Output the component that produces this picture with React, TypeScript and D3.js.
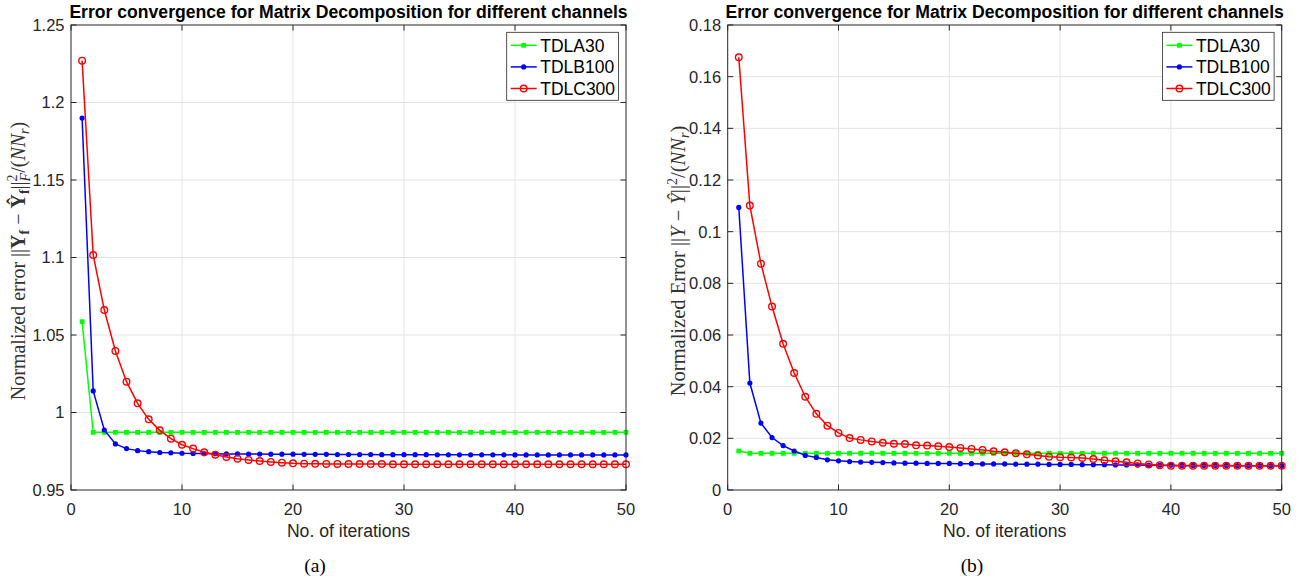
import React, { useEffect, useRef } from "react";
import * as d3 from "d3";

// iterations 1..50
const iterations = [
  1, 2, 3, 4, 5, 6, 7, 8, 9, 10, 11, 12, 13, 14, 15, 16, 17, 18, 19, 20,
  21, 22, 23, 24, 25, 26, 27, 28, 29, 30, 31, 32, 33, 34, 35, 36, 37, 38, 39, 40,
  41, 42, 43, 44, 45, 46, 47, 48, 49, 50,
];
const seriesNames = ["TDLA30", "TDLB100", "TDLC300"];
const seriesColors = ["#00ff00", "#0000ff", "#ff0000"];

const xTicks = [0, 10, 20, 30, 40, 50];
const xTickLabels = ["0", "10", "20", "30", "40", "50"];

// panel (a)
const yTicksA = [0.95, 1, 1.05, 1.1, 1.15, 1.2, 1.25];
const yTickLabelsA = ["0.95", "1", "1.05", "1.1", "1.15", "1.2", "1.25"];
const tdla30A = [
  1.0586, 0.9872, 0.9872, 0.9872, 0.9872, 0.9872, 0.9872, 0.9872, 0.9872, 0.9872,
  0.9872, 0.9872, 0.9872, 0.9872, 0.9872, 0.9872, 0.9872, 0.9872, 0.9872, 0.9872,
  0.9872, 0.9872, 0.9872, 0.9872, 0.9872, 0.9872, 0.9872, 0.9872, 0.9872, 0.9872,
  0.9872, 0.9872, 0.9872, 0.9872, 0.9872, 0.9872, 0.9872, 0.9872, 0.9872, 0.9872,
  0.9872, 0.9872, 0.9872, 0.9872, 0.9872, 0.9872, 0.9872, 0.9872, 0.9872, 0.9872,
];
const tdlb100A = [
  1.19, 1.0139, 0.9887, 0.9797, 0.9767, 0.9754, 0.9747, 0.9742, 0.974, 0.9737,
  0.9736, 0.9735, 0.9734, 0.9733, 0.9733, 0.9732, 0.9732, 0.9731, 0.9731, 0.9731,
  0.973, 0.973, 0.973, 0.9729, 0.9729, 0.9729, 0.9729, 0.9728, 0.9728, 0.9728,
  0.9728, 0.9728, 0.9727, 0.9727, 0.9727, 0.9727, 0.9727, 0.9727, 0.9727, 0.9726,
  0.9726, 0.9726, 0.9726, 0.9726, 0.9726, 0.9726, 0.9726, 0.9726, 0.9726, 0.9726,
];
const tdlc300A = [
  1.227, 1.1016, 1.0661, 1.0397, 1.0199, 1.0059, 0.9956, 0.9885, 0.9831, 0.9792,
  0.9767, 0.9743, 0.9728, 0.9713, 0.9702, 0.9694, 0.9687, 0.9681, 0.9676, 0.9672,
  0.967, 0.9669, 0.9668, 0.9668, 0.9667, 0.9667, 0.9667, 0.9667, 0.9666, 0.9666,
  0.9666, 0.9666, 0.9666, 0.9666, 0.9666, 0.9666, 0.9666, 0.9666, 0.9666, 0.9666,
  0.9666, 0.9666, 0.9666, 0.9666, 0.9666, 0.9666, 0.9666, 0.9666, 0.9666, 0.9666,
];

// panel (b)
const yTicksB = [0, 0.02, 0.04, 0.06, 0.08, 0.1, 0.12, 0.14, 0.16, 0.18];
const yTickLabelsB = ["0", "0.02", "0.04", "0.06", "0.08", "0.1", "0.12", "0.14", "0.16", "0.18"];
const tdla30B = [
  0.0151, 0.0142, 0.0142, 0.0142, 0.0142, 0.0142, 0.0142, 0.0142, 0.0142, 0.0142,
  0.0142, 0.0142, 0.0142, 0.0142, 0.0142, 0.0142, 0.0142, 0.0142, 0.0142, 0.0142,
  0.0142, 0.0142, 0.0142, 0.0142, 0.0142, 0.0142, 0.0142, 0.0142, 0.0142, 0.0142,
  0.0142, 0.0142, 0.0142, 0.0142, 0.0142, 0.0142, 0.0142, 0.0142, 0.0142, 0.0142,
  0.0142, 0.0142, 0.0142, 0.0142, 0.0142, 0.0142, 0.0142, 0.0142, 0.0142, 0.0142,
];
const tdlb100B = [
  0.1094, 0.0414, 0.0259, 0.0203, 0.0172, 0.0151, 0.0134, 0.0126, 0.0117, 0.0113,
  0.011, 0.0108, 0.0107, 0.0106, 0.0105, 0.0104, 0.0104, 0.0103, 0.0103, 0.0103,
  0.0102, 0.0102, 0.0101, 0.0101, 0.0101, 0.01, 0.01, 0.01, 0.0099, 0.0099,
  0.0099, 0.0098, 0.0098, 0.0098, 0.0097, 0.0097, 0.0097, 0.0096, 0.0096, 0.0096,
  0.0095, 0.0095, 0.0095, 0.0095, 0.0095, 0.0094, 0.0094, 0.0094, 0.0094, 0.0094,
];
const tdlc300B = [
  0.1675, 0.1101, 0.0876, 0.071, 0.0566, 0.0453, 0.0361, 0.0295, 0.0249, 0.0221,
  0.0201, 0.0194, 0.0188, 0.0183, 0.0179, 0.0178, 0.0173, 0.0172, 0.0169, 0.0166,
  0.0163, 0.0159, 0.0155, 0.015, 0.0146, 0.0142, 0.0138, 0.0134, 0.0129, 0.0127,
  0.0126, 0.0124, 0.012, 0.0115, 0.0111, 0.0107, 0.0103, 0.0099, 0.0096, 0.0094,
  0.0094, 0.0094, 0.0094, 0.0094, 0.0094, 0.0094, 0.0094, 0.0094, 0.0094, 0.0094,
];

const titleText = "Error convergence for Matrix Decomposition for different channels";
const xLabelText = "No. of iterations";

const W = 1312, H = 582;
const TOP = 25, BOTTOM = 490;
const AX = "#262626";
const GRID = "#e4e4e4";
const SANS = "'Liberation Sans', Arial, Helvetica, sans-serif";
const SERIF = "'Liberation Serif', 'Times New Roman', serif";

function marker(g, kind, cx, cy, color) {
  if (kind === 0) {
    g.append("rect").attr("x", cx - 2.4).attr("y", cy - 2.4)
      .attr("width", 4.8).attr("height", 4.8).attr("fill", color);
  } else if (kind === 1) {
    g.append("circle").attr("cx", cx).attr("cy", cy).attr("r", 2.6).attr("fill", color);
  } else {
    g.append("circle").attr("cx", cx).attr("cy", cy).attr("r", 3.3)
      .attr("fill", "none").attr("stroke", color).attr("stroke-width", 1.4);
  }
}

function drawPanel(svg, p) {
  const x = d3.scaleLinear().domain([0, 50]).range([p.left, p.right]);
  const y = d3.scaleLinear().domain(p.yDomain).range([BOTTOM, TOP]);
  const g = svg.append("g");

  // grid
  g.selectAll(".gx").data(xTicks.slice(1, -1)).join("line")
    .attr("x1", d => x(d)).attr("x2", d => x(d))
    .attr("y1", TOP).attr("y2", BOTTOM)
    .attr("stroke", GRID).attr("stroke-width", 1);
  g.selectAll(".gy").data(p.yTicks.slice(1, -1)).join("line")
    .attr("x1", p.left).attr("x2", p.right)
    .attr("y1", d => y(d)).attr("y2", d => y(d))
    .attr("stroke", GRID).attr("stroke-width", 1);

  // series
  p.series.forEach((vals, i) => {
    const pts = vals.map((v, k) => [x(iterations[k]), y(v)]);
    g.append("path").attr("d", d3.line()(pts))
      .attr("fill", "none").attr("stroke", seriesColors[i]).attr("stroke-width", 1.5);
    const mg = g.append("g");
    pts.forEach(pt => marker(mg, i, pt[0], pt[1], seriesColors[i]));
  });

  // box + inward ticks on all sides
  g.append("rect").attr("x", p.left).attr("y", TOP)
    .attr("width", p.right - p.left).attr("height", BOTTOM - TOP)
    .attr("fill", "none").attr("stroke", AX).attr("stroke-width", 1);
  const tl = 5.5;
  xTicks.forEach(t => {
    g.append("line").attr("x1", x(t)).attr("x2", x(t)).attr("y1", BOTTOM).attr("y2", BOTTOM - tl).attr("stroke", AX);
    g.append("line").attr("x1", x(t)).attr("x2", x(t)).attr("y1", TOP).attr("y2", TOP + tl).attr("stroke", AX);
  });
  p.yTicks.forEach(t => {
    g.append("line").attr("x1", p.left).attr("x2", p.left + tl).attr("y1", y(t)).attr("y2", y(t)).attr("stroke", AX);
    g.append("line").attr("x1", p.right).attr("x2", p.right - tl).attr("y1", y(t)).attr("y2", y(t)).attr("stroke", AX);
  });

  // tick labels
  g.selectAll(".xt").data(xTicks).join("text")
    .attr("x", d => x(d)).attr("y", 515)
    .attr("text-anchor", "middle")
    .style("font-family", SANS).style("font-size", "16.5px").attr("fill", AX)
    .text((d, i) => xTickLabels[i]);
  g.selectAll(".yt").data(p.yTicks).join("text")
    .attr("x", p.left - 6.5).attr("y", d => y(d)).attr("dy", "0.36em")
    .attr("text-anchor", "end")
    .style("font-family", SANS).style("font-size", "16.5px").attr("fill", AX)
    .text((d, i) => p.yTickLabels[i]);

  // title, x label, panel tag
  g.append("text").attr("x", (p.left + p.right) / 2).attr("y", 17.5)
    .attr("text-anchor", "middle")
    .style("font-family", SANS).style("font-size", "17.6px").style("font-weight", "bold")
    .attr("fill", "#000").text(titleText);
  g.append("text").attr("x", (p.left + p.right) / 2).attr("y", 537)
    .attr("text-anchor", "middle")
    .style("font-family", SANS).style("font-size", "17.6px").attr("fill", AX)
    .text(xLabelText);
  g.append("text").attr("x", p.tagX).attr("y", 571.5)
    .attr("text-anchor", "middle")
    .style("font-family", SERIF).style("font-size", "19.5px").attr("fill", "#000")
    .text(p.tag);

  // y label (math pieces as tspans)
  const yl = g.append("text")
    .attr("transform", `translate(${p.ylabelX},261) rotate(-90)`)
    .attr("text-anchor", "middle")
    .style("font-family", SERIF).style("font-size", p.ylabelSize + "px").attr("fill", "#333");
  p.ylabel.forEach(s => {
    const t = yl.append("tspan").text(s.t);
    if (s.b) t.style("font-weight", "bold");
    if (s.i) t.style("font-style", "italic");
    if (s.fs) t.style("font-size", s.fs + "px");
    if (s.dy) t.attr("dy", s.dy);
    if (s.dx) t.attr("dx", s.dx);
  });

  // legend
  const bx = p.right - 119.3, by = 32.3;
  const lg = g.append("g");
  lg.append("rect").attr("x", bx).attr("y", by).attr("width", 111.7).attr("height", 68)
    .attr("fill", "#fff").attr("stroke", AX).attr("stroke-width", 0.8);
  seriesNames.forEach((name, i) => {
    const ly = by + 13 + i * 21.6;
    lg.append("line").attr("x1", bx + 4).attr("x2", bx + 30).attr("y1", ly).attr("y2", ly)
      .attr("stroke", seriesColors[i]).attr("stroke-width", 1.5);
    marker(lg, i, bx + 17, ly, seriesColors[i]);
    lg.append("text").attr("x", bx + 33.5).attr("y", ly).attr("dy", "0.36em")
      .style("font-family", SANS).style("font-size", "17.5px").attr("fill", "#000")
      .text(name);
  });
}

const ylabelA = [
  { t: "Normalized error ||" },
  { t: "Y", b: true },
  { t: "f", b: true, fs: 14, dy: 4 },
  { t: " \u2212 ", dy: -4 },
  { t: "\u0176", b: true },
  { t: "f", b: true, fs: 14, dy: 4 },
  { t: "||", dy: -4 },
  { t: "2", fs: 14, dy: -8 },
  { t: "F", i: true, fs: 14, dx: -7, dy: 13 },
  { t: "/(", dy: -5 },
  { t: "NN", i: true },
  { t: "r", i: true, fs: 14, dy: 4 },
  { t: ")", dy: -4 },
];
const ylabelB = [
  { t: "Normalized Error ||" },
  { t: "Y", i: true },
  { t: " \u2212 " },
  { t: "\u0176", i: true },
  { t: "||" },
  { t: "2", fs: 14, dy: -8 },
  { t: "/(", dy: 8 },
  { t: "NN", i: true },
  { t: "r", i: true, fs: 14, dy: 4 },
  { t: ")", dy: -4 },
];

export default function App() {
  const ref = useRef(null);
  useEffect(() => {
    const svg = d3.select(ref.current);
    svg.selectAll("*").remove();
    svg.append("rect").attr("width", W).attr("height", H).attr("fill", "#fff");
    drawPanel(svg, {
      left: 71, right: 626, yDomain: [0.95, 1.25],
      yTicks: yTicksA, yTickLabels: yTickLabelsA,
      series: [tdla30A, tdlb100A, tdlc300A],
      tag: "(a)", tagX: 315, ylabelX: 25, ylabelSize: 20, ylabel: ylabelA,
    });
    drawPanel(svg, {
      left: 727.7, right: 1281.7, yDomain: [0, 0.18],
      yTicks: yTicksB, yTickLabels: yTickLabelsB,
      series: [tdla30B, tdlb100B, tdlc300B],
      tag: "(b)", tagX: 972, ylabelX: 685, ylabelSize: 20.5, ylabel: ylabelB,
    });
  }, []);
  return (
    <svg ref={ref} width={W} height={H}
      style={{ position: "absolute", left: 0, top: 0, display: "block" }} />
  );
}
